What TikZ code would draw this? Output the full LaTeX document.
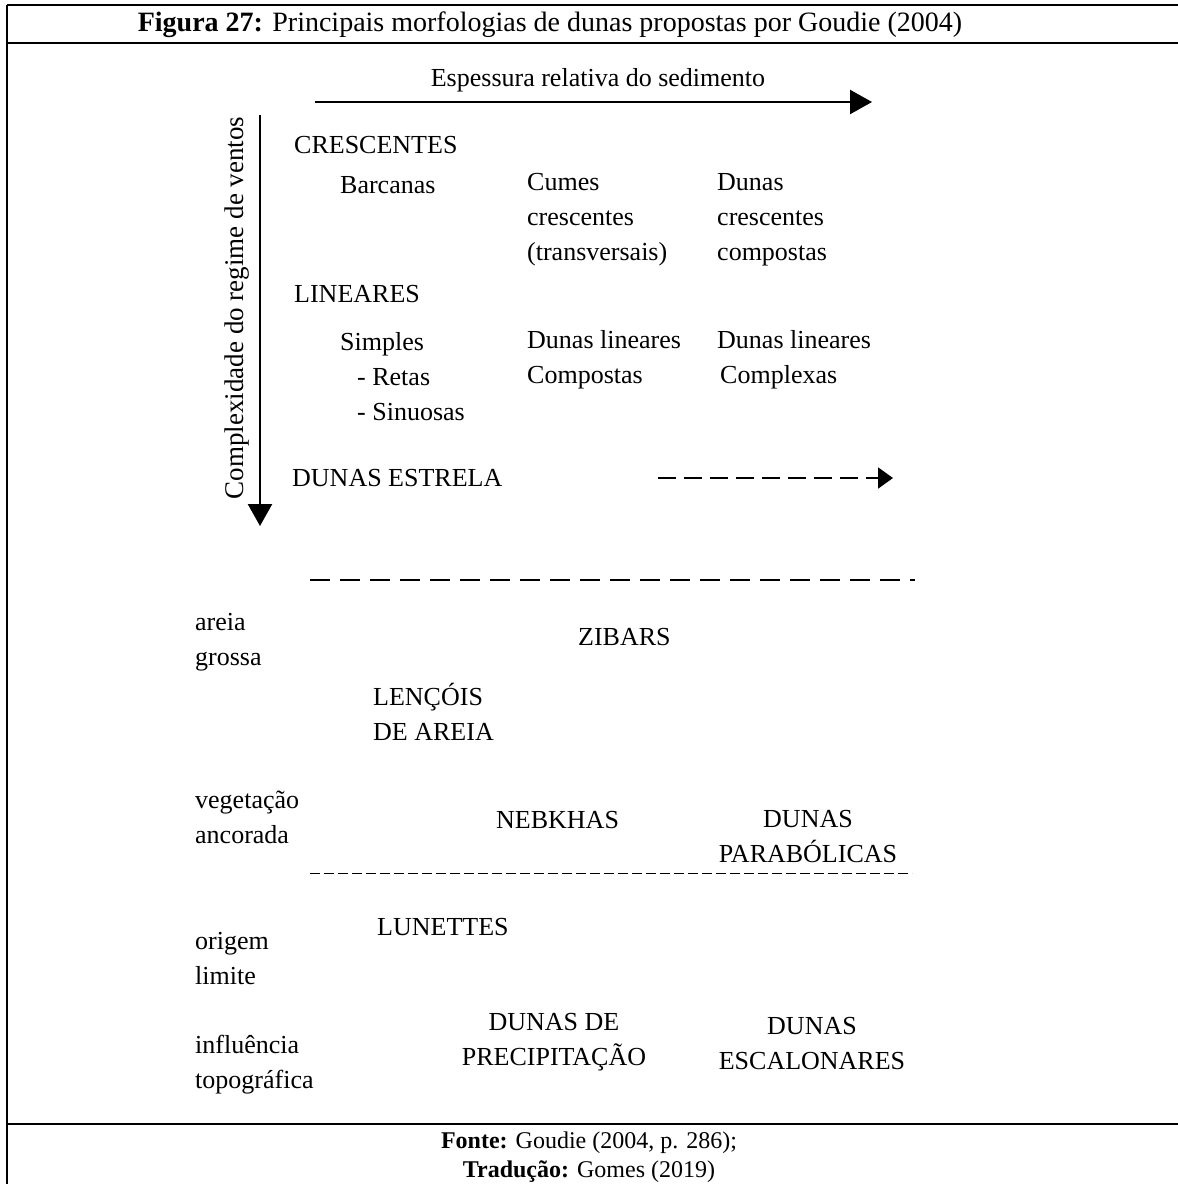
\documentclass[tikz,border=0pt]{standalone}
\usepackage{fontspec}
\setmainfont{Liberation Serif}
\usetikzlibrary{positioning,arrows.meta}
\begin{document}
\begin{tikzpicture}[x=1pt,y=-1pt,lw/.style={line width=2.4pt},t/.style={anchor=west,inner sep=0pt,align=left,font=\fontsize{26}{35}\selectfont},c/.style={inner sep=0pt,align=center,font=\fontsize{26}{35}\selectfont},>={Triangle[length=22pt,width=24pt]}]
\useasboundingbox (0,0) rectangle (1178,1184);
% quadro
\draw[lw] (7,5)--(1178,5); \draw[lw] (7,43)--(1178,43); \draw[lw] (7,1124)--(1178,1124); \draw[lw] (7,5)--(7,1184);
\node[c,font=\fontsize{28}{30}\selectfont] (tit) at (550,25) {\textbf{Figura 27:} Principais morfologias de dunas propostas por Goudie (2004)};
% eixos
\coordinate (h0) at (315,102); \coordinate (h1) at (872,102);
\coordinate (v0) at (260,115); \coordinate (v1) at (260,526);
\draw[lw,->] (h0)--(h1); \draw[lw,->] (v0)--(v1);
\node[c] (esp) at (598,80) {Espessura relativa do sedimento};
\node[c,rotate=90,font=\fontsize{27}{35}\selectfont] (cpx) at (237,308) {Complexidade do regime de ventos};
\node[t] (cr) at (294,145) {CRESCENTES};
\node[t] (barc) at (340,185) {Barcanas};
\node[t] (cum) at (527,220) {Cumes\\crescentes\\(transversais)};
\node[t] (dcc) at (717,220) {Dunas\\crescentes\\compostas};
\node[t] (lin) at (294,294) {LINEARES};
\node[t] (sim) at (340,377) {Simples\\\hspace*{17pt}- Retas\\\hspace*{17pt}- Sinuosas};
\node[t] (dlc) at (527,360) {Dunas lineares\\Compostas};
\node[t] (dlx) at (717,360) {Dunas lineares\\\hspace*{3pt}Complexas};
\node[t] (est) at (292,478) {DUNAS ESTRELA};
\coordinate (d0) at (658,478); \coordinate (d1) at (893,478);
\draw[line width=2pt,dash pattern=on 18pt off 8pt,-{Triangle[length=15pt,width=21pt]}] (d0)--(d1);
% limite
\coordinate (l0) at (310,580); \coordinate (l1) at (915,580);
\draw[line width=2pt,dash pattern=on 20pt off 10pt] (l0)--(l1);
\node[t] (are) at (195,642) {areia\\grossa};
\node[t] (zib) at (578,637) {ZIBARS};
\node[t] (len) at (373,712) {LENÇÓIS\\DE AREIA};
\node[t] (veg) at (195,817) {vegetação\\ancorada};
\node[t] (neb) at (496,820) {NEBKHAS};
\node[c] (par) at (808,837) {DUNAS\\PARABÓLICAS};
\coordinate (f0) at (310,873); \coordinate (f1) at (912,873);
\draw[line width=1pt,dash pattern=on 10pt off 4pt] (f0)--(f1);
\node[t] (lun) at (377,927) {LUNETTES};
\node[t] (ori) at (195,959) {origem\\limite};
\node[t] (inf) at (195,1065) {influência\\topográfica};
\node[c] (pre) at (554,1042) {DUNAS DE\\PRECIPITAÇÃO};
\node[c] (esc) at (812,1044) {DUNAS\\ESCALONARES};
% fonte
\node[c,font=\fontsize{24}{29}\selectfont] (fon) at (589,1157) {\textbf{Fonte:} Goudie (2004, p. 286);\\\textbf{Tradução:} Gomes (2019)};
\end{tikzpicture}
\end{document}
